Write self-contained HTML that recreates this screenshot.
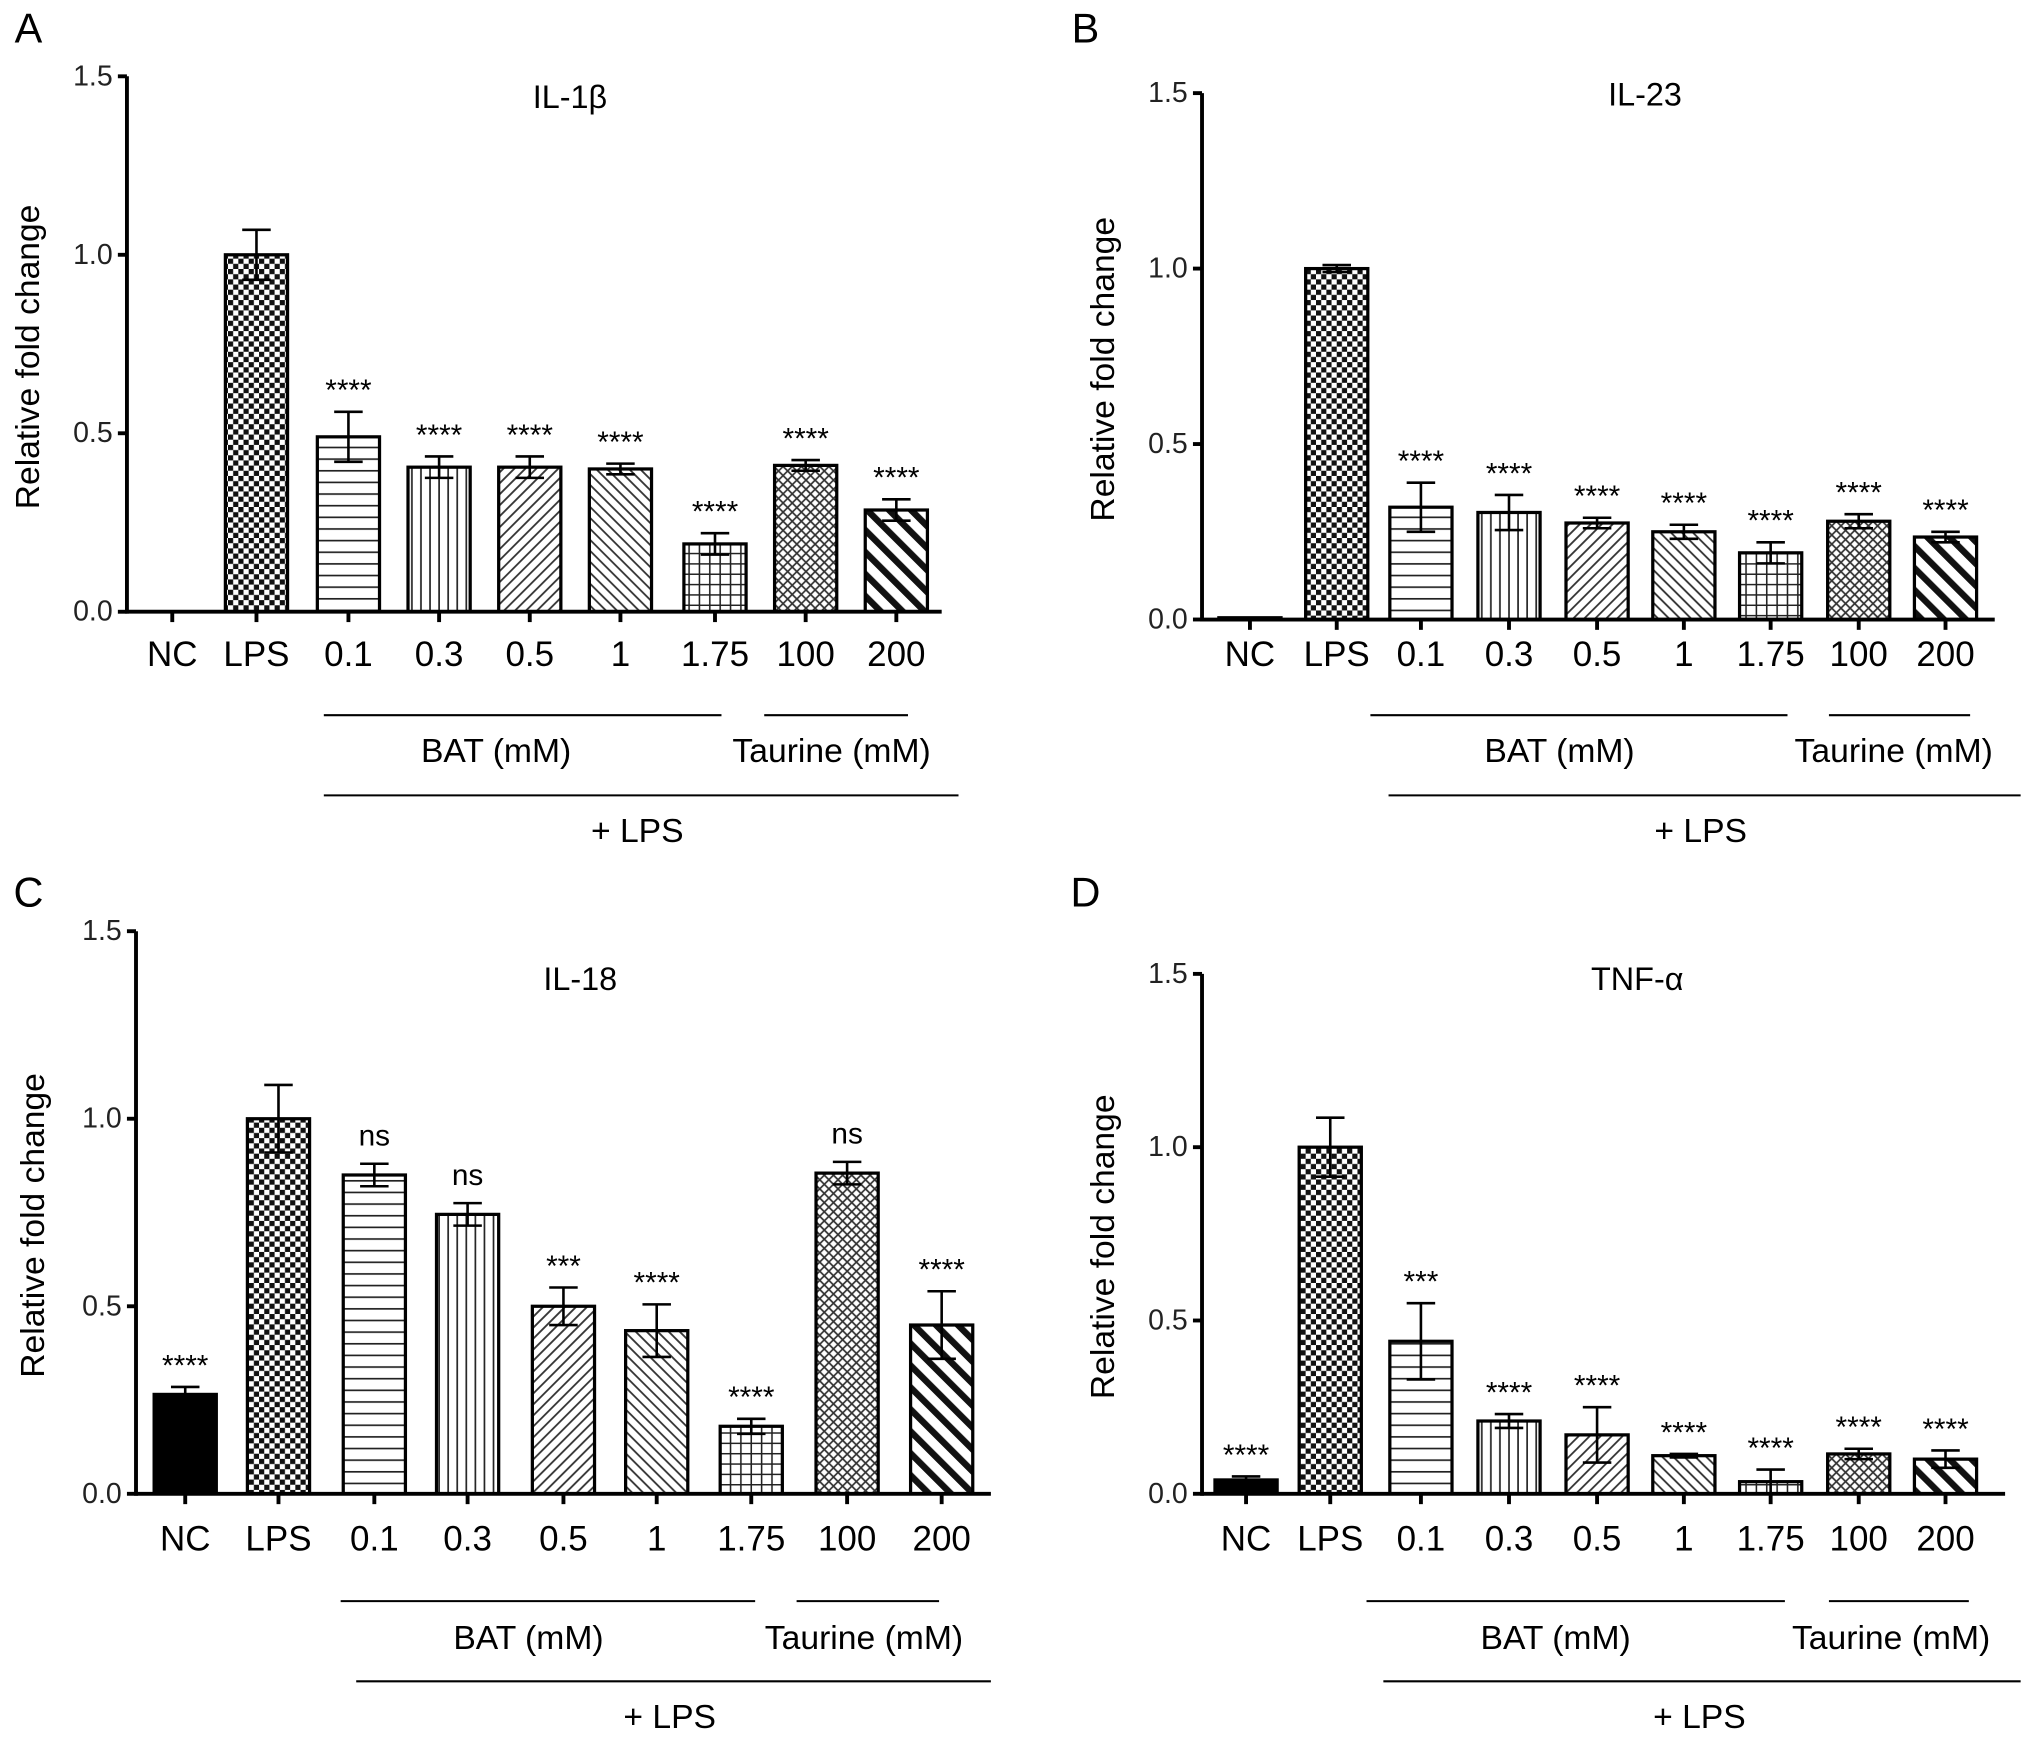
<!DOCTYPE html>
<html><head><meta charset="utf-8"><style>
html,body{margin:0;padding:0;background:#fff;}
svg{display:block;font-family:"Liberation Sans",Arial,sans-serif;}
</style></head><body>
<svg id="fig" width="2031" height="1746" viewBox="0 0 1568 1350" preserveAspectRatio="none" xmlns="http://www.w3.org/2000/svg">
<defs>
<pattern id="p-check" width="8" height="8" patternUnits="userSpaceOnUse"><rect width="8" height="8" fill="#fff"/><rect width="4" height="4" fill="#111"/><rect x="4" y="4" width="4" height="4" fill="#111"/></pattern>
<pattern id="p-horiz" width="8" height="9" patternUnits="userSpaceOnUse"><rect width="8" height="9" fill="#fff"/><line x1="0" y1="4" x2="8" y2="4" stroke="#222" stroke-width="1.3"/></pattern>
<pattern id="p-vert" width="7" height="8" patternUnits="userSpaceOnUse"><rect width="7" height="8" fill="#fff"/><line x1="3" y1="0" x2="3" y2="8" stroke="#222" stroke-width="1.3"/></pattern>
<pattern id="p-fwd" width="6" height="6" patternUnits="userSpaceOnUse" patternTransform="rotate(45)"><rect width="6" height="6" fill="#fff"/><line x1="3" y1="0" x2="3" y2="6" stroke="#333" stroke-width="1.4"/></pattern>
<pattern id="p-back" width="6" height="6" patternUnits="userSpaceOnUse" patternTransform="rotate(-45)"><rect width="6" height="6" fill="#fff"/><line x1="3" y1="0" x2="3" y2="6" stroke="#333" stroke-width="1.4"/></pattern>
<pattern id="p-grid" width="8" height="8" patternUnits="userSpaceOnUse"><rect width="8" height="8" fill="#fff"/><path d="M0 4H8M4 0V8" stroke="#222" stroke-width="1.2"/></pattern>
<pattern id="p-cross" width="5" height="5" patternUnits="userSpaceOnUse" patternTransform="rotate(45)"><rect width="5" height="5" fill="#fff"/><path d="M0 2.5H5M2.5 0V5" stroke="#333" stroke-width="1.3"/></pattern>
<pattern id="p-thick" width="12" height="12" patternUnits="userSpaceOnUse" patternTransform="rotate(-45)"><rect width="12" height="12" fill="#fff"/><rect x="0" y="0" width="5" height="12" fill="#111"/></pattern>
</defs>
</svg>
<script>
const categories = ["NC","LPS","0.1","0.3","0.5","1","1.75","100","200"];
const yTicks = [0, 0.5, 1.0, 1.5];
const yTickLabels = ["0.0","0.5","1.0","1.5"];
const fills = ["#000","url(#p-check)","url(#p-horiz)","url(#p-vert)","url(#p-fwd)","url(#p-back)","url(#p-grid)","url(#p-cross)","url(#p-thick)"];
const valuesA = [0, 1.0, 0.49, 0.405, 0.405, 0.40, 0.19, 0.41, 0.285];
const errorsA = [0, 0.07, 0.07, 0.03, 0.03, 0.015, 0.03, 0.015, 0.03];
const sigA = ["","","****","****","****","****","****","****","****"];
const valuesB = [0.005, 1.0, 0.32, 0.305, 0.275, 0.25, 0.19, 0.28, 0.235];
const errorsB = [0, 0.01, 0.07, 0.05, 0.015, 0.02, 0.03, 0.02, 0.015];
const sigB = ["","","****","****","****","****","****","****","****"];
const valuesC = [0.265, 1.0, 0.85, 0.745, 0.50, 0.435, 0.18, 0.855, 0.45];
const errorsC = [0.02, 0.09, 0.03, 0.03, 0.05, 0.07, 0.02, 0.03, 0.09];
const sigC = ["****","","ns","ns","***","****","****","ns","****"];
const valuesD = [0.04, 1.0, 0.44, 0.21, 0.17, 0.11, 0.035, 0.115, 0.10];
const errorsD = [0.01, 0.085, 0.11, 0.02, 0.08, 0.005, 0.035, 0.015, 0.025];
const sigD = ["****","","***","****","****","****","****","****","****"];

const svg = document.getElementById('fig');
const NS = "http://www.w3.org/2000/svg";
function mk(tag, attrs, parent){const e=document.createElementNS(NS,tag);for(const k in attrs)e.setAttribute(k,attrs[k]);(parent||svg).appendChild(e);return e;}

const panels = [
 {id:"a",letter:"A",lx:22,ly:22,title:"IL-1β",tx:440,ty:75,ax:98,y15:59,y0:473,xEnd:727,cx:[133,198,269,339,409,479,552,622,692],labY:506,bat:[250,557],tau:[590,701],grpY:553,grpLab:581,batLx:383,tauLx:642,lpsLine:[250,740],lpsY:615,lpsLab:[492,643],ytx:22,vals:valuesA,errs:errorsA,sig:sigA,ncBar:false},
 {id:"b",letter:"B",lx:838,ly:22,title:"IL-23",tx:1270,ty:73,ax:928,y15:72,y0:479,xEnd:1540,cx:[965,1032,1097,1165,1233,1300,1367,1435,1502],labY:506,bat:[1058,1380],tau:[1412,1521],grpY:553,grpLab:581,batLx:1204,tauLx:1462,lpsLine:[1072,1560],lpsY:615,lpsLab:[1313,643],ytx:852,vals:valuesB,errs:errorsB,sig:sigB,ncBar:true},
 {id:"c",letter:"C",lx:22,ly:690,title:"IL-18",tx:448,ty:757,ax:105,y15:720,y0:1155,xEnd:765,cx:[143,215,289,361,435,507,580,654,727],labY:1190,bat:[263,583],tau:[615,725],grpY:1238,grpLab:1267,batLx:408,tauLx:667,lpsLine:[275,765],lpsY:1300,lpsLab:[517,1328],ytx:26,vals:valuesC,errs:errorsC,sig:sigC,ncBar:true},
 {id:"d",letter:"D",lx:838,ly:690,title:"TNF-α",tx:1264,ty:757,ax:928,y15:753,y0:1155,xEnd:1548,cx:[962,1027,1097,1165,1233,1300,1367,1435,1502],labY:1190,bat:[1055,1378],tau:[1412,1520],grpY:1238,grpLab:1267,batLx:1201,tauLx:1460,lpsLine:[1068,1560],lpsY:1300,lpsLab:[1312,1328],ytx:852,vals:valuesD,errs:errorsD,sig:sigD,ncBar:true}
];

panels.forEach(p=>{
  const g = mk('g',{});
  
  
  const yS = v => p.y0 - (v/1.5)*(p.y0-p.y15);
  let t = mk('text',{x:p.lx,y:p.ly,'font-size':32,'text-anchor':'middle','dominant-baseline':'central'},g);
  t.textContent=p.letter;
  
  
  t = mk('text',{x:p.tx,y:p.ty,'font-size':25,'text-anchor':'middle','dominant-baseline':'central'},g);
  t.textContent=p.title;
  
  
  const ym=(p.y15+p.y0)/2+10;
  t = mk('text',{x:p.ytx,y:ym,'font-size':26,'text-anchor':'middle','dominant-baseline':'central',transform:`rotate(-90 ${p.ytx} ${ym})`},g);
  t.textContent='Relative fold change';
  
  
  p.vals.forEach((v,i)=>{
    const x=p.cx[i], w=48;
    if(i===0 && !p.ncBar) return;
    const r = mk('rect',{x:x-w/2,y:yS(v),width:w,height:Math.max(0,p.y0-yS(v)),fill:fills[i],stroke:'#000','stroke-width':2.5},g);
    
    
    const e=p.errs[i];
    if(e>0){
      const eg=mk('g',{stroke:'#000','stroke-width':2},g);
      
      
      mk('line',{x1:x,x2:x,y1:yS(v+e),y2:yS(Math.max(0,v-e))},eg);
      mk('line',{x1:x-11,x2:x+11,y1:yS(v+e),y2:yS(v+e)},eg);
      mk('line',{x1:x-11,x2:x+11,y1:yS(Math.max(0,v-e)),y2:yS(Math.max(0,v-e))},eg);
    }
    if(p.sig[i]){
      const st=mk('text',{x:x,y:yS(v+e)-(p.sig[i]==='ns'?14:9),'font-size':23,'text-anchor':'middle'},g);
      st.textContent=p.sig[i];
      
      
    }
  });
  const ax=mk('g',{stroke:'#000','stroke-width':3},g);
  
  
  mk('line',{x1:p.ax,x2:p.ax,y1:p.y15,y2:p.y0+1.5},ax);
  mk('line',{x1:p.ax,x2:p.xEnd,y1:p.y0,y2:p.y0},ax);
  yTicks.forEach((v,i)=>{
    mk('line',{x1:p.ax-7,x2:p.ax,y1:yS(v),y2:yS(v)},ax);
    const tl=mk('text',{x:p.ax-11,y:yS(v),'font-size':22,'text-anchor':'end','dominant-baseline':'central',stroke:'none',fill:'#222'},g);
    tl.textContent=yTickLabels[i];
    
    
  });
  categories.forEach((c,i)=>{
    mk('line',{x1:p.cx[i],x2:p.cx[i],y1:p.y0,y2:p.y0+8},ax);
    const tl=mk('text',{x:p.cx[i],y:p.labY,'font-size':27,'text-anchor':'middle','dominant-baseline':'central'},g);
    tl.textContent=c;
    
    
  });
  const gl=mk('g',{stroke:'#000','stroke-width':1.6},g);
  
  
  mk('line',{x1:p.bat[0],x2:p.bat[1],y1:p.grpY,y2:p.grpY},gl);
  mk('line',{x1:p.tau[0],x2:p.tau[1],y1:p.grpY,y2:p.grpY},gl);
  mk('line',{x1:p.lpsLine[0],x2:p.lpsLine[1],y1:p.lpsY,y2:p.lpsY},gl);
  [[p.batLx,'BAT (mM)','bat-label'],[p.tauLx,'Taurine (mM)','taurine-label']].forEach(a=>{
    const tl=mk('text',{x:a[0],y:p.grpLab,'font-size':26,'text-anchor':'middle','dominant-baseline':'central'},g);
    tl.textContent=a[1];
    
    
  });
  const ll=mk('text',{x:p.lpsLab[0],y:p.lpsLab[1],'font-size':26,'text-anchor':'middle','dominant-baseline':'central'},g);
  ll.textContent='+ LPS';
  
  
});
</script>
</body></html>
